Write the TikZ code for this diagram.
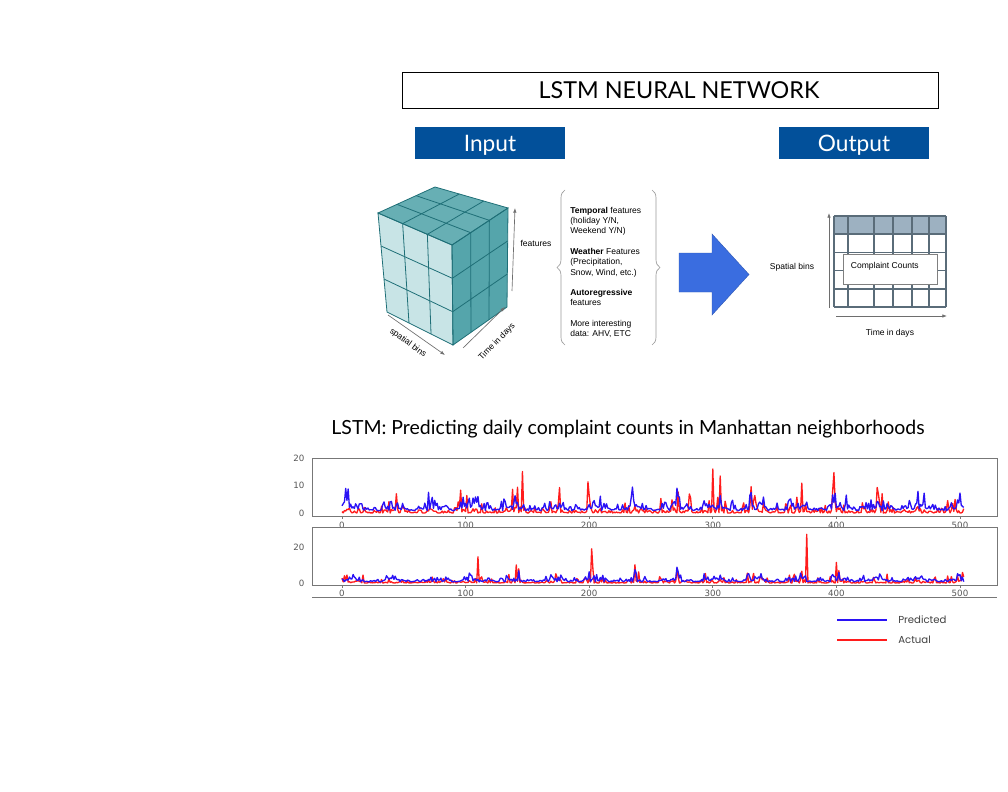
\documentclass[tikz,border=0pt]{standalone}
\usepackage{fontspec}
\setmainfont{Liberation Sans}
\newfontfamily\gillFont{Lato}
\newfontfamily\montFont{Poppins}
\newfontfamily\mplFont{DejaVu Sans}
\usetikzlibrary{arrows.meta, calc, positioning, decorations.pathreplacing}

\definecolor{boxBlue}{HTML}{02509A}
\definecolor{arrowBlue}{HTML}{3A6DE0}
\definecolor{cubeLight}{HTML}{C8E4E6}
\definecolor{cubeTop}{HTML}{67AFB4}
\definecolor{cubeSide}{HTML}{55A5AB}
\definecolor{cubeLine}{HTML}{1F6F77}
\definecolor{axisGray}{HTML}{6E6E6E}
\definecolor{braceGray}{HTML}{9A9A9A}
\definecolor{gridHead}{HTML}{9DB1C1}
\definecolor{gridLine}{HTML}{5A6C79}
\definecolor{frameGray}{HTML}{777777}
\definecolor{tickGray}{HTML}{555555}
\definecolor{predBlue}{HTML}{2A12F5}
\definecolor{actRed}{HTML}{FF1C1C}

\tikzset{
    lstmBox/.style={draw, line width=0.7pt, minimum width=402pt, minimum height=27pt, inner sep=0pt},
    headBox/.style={fill=boxBlue, text=white, minimum width=112.5pt, minimum height=24pt, inner sep=0pt, text height=14pt, text depth=1.8pt, font=\gillFont\fontsize{17}{19}\selectfont},
    cubeEdge/.style={draw=cubeLine, line width=0.6pt},
    axisArrow/.style={-{Latex[length=3.5pt, width=2.6pt]}, draw=axisGray, line width=0.5pt},
    smallText/.style={font=\fontsize{6.4}{7.7}\selectfont, inner sep=1pt},
    featBrace/.style={decorate, decoration={brace, amplitude=6pt}, draw=braceGray, line width=0.5pt},
    gridRule/.style={draw=gridLine, line width=1.3pt},
    axesFrame/.style={draw=frameGray, line width=0.6pt},
    tickLabel/.style={font=\mplFont\fontsize{6.5}{7.5}\selectfont, text=tickGray, inner sep=1pt},
    predLine/.style={draw=predBlue, line width=1pt, line join=round},
    actLine/.style={draw=actRed, line width=1pt, line join=round},
}
\newcommand{\faceGrid}[4]{
    \foreach \t in {0.333, 0.667} {
        \draw[cubeEdge] ($(#1)!\t!(#2)$) -- ($(#4)!\t!(#3)$);
        \draw[cubeEdge] ($(#1)!\t!(#4)$) -- ($(#2)!\t!(#3)$);
    }
    \draw[cubeEdge] (#1) -- (#2) -- (#3) -- (#4) -- cycle;
}
\newcommand{\drawSeries}[3]{
    \pgfmathsetseed{#2}
    \draw[#1] plot[domain=0:503, samples=504] (\x, {#3});
}
% slow swell shared by both series
\newcommand{\swell}{max(0.2, 0.65 + 0.45*sin(\x*11) + 0.3*sin(\x*31))}

\begin{document}
\begin{tikzpicture}[x=0.75pt, y=-0.75pt]
    \useasboundingbox (0,0) rectangle (1008,792);

    % 1. Title and headers
    \node[lstmBox] (lstmFrame) at (670,90) {};
    \node[font=\gillFont\fontsize{17.5}{20}\selectfont, inner sep=0pt] (lstmTitle) at (679,90) {LSTM NEURAL NETWORK};
    \node[headBox] (inputHead) at (490,143) {Input};
    \node[headBox] (outputHead) at (854,143) {Output};

    % 2. Input cube
    \coordinate (tl) at (378,213); \coordinate (tb) at (435,187); \coordinate (tr) at (508,208); \coordinate (tf) at (452,245);
    \coordinate (bf) at (453,345); \coordinate (br) at (507,307); \coordinate (bl) at (387,312);
    \fill[cubeLight] (tl) -- (tf) -- (bf) -- (bl) -- cycle;
    \fill[cubeSide] (tf) -- (tr) -- (br) -- (bf) -- cycle;
    \fill[cubeTop] (tl) -- (tb) -- (tr) -- (tf) -- cycle;
    \faceGrid{tl}{tf}{bf}{bl}
    \faceGrid{tf}{tr}{br}{bf}
    \faceGrid{tl}{tb}{tr}{tf}

    % cube axes
    \coordinate (featLow) at (512,291); \coordinate (featHigh) at (515,208);
    \coordinate (dayLow) at (463,348); \coordinate (dayHigh) at (505,307);
    \coordinate (binLow) at (388,315); \coordinate (binHigh) at (445,355);
    \draw[axisArrow] (featLow) -- (featHigh);
    \draw[axisArrow] (dayLow) -- (dayHigh);
    \draw[axisArrow] (binLow) -- (binHigh);
    \node[smallText] (featLabel) at (536,243) {features};
    \node[smallText, rotate=46] (dayLabel) at (497,342) {Time in days};
    \node[smallText, rotate=-36] (binLabel) at (408,343) {spatial bins};

    % 3. Feature list
    \coordinate (braceLa) at (565,345); \coordinate (braceLb) at (565,190);
    \coordinate (braceRa) at (652,190); \coordinate (braceRb) at (652,345);
    \draw[featBrace] (braceLa) -- (braceLb);
    \draw[featBrace] (braceRa) -- (braceRb);
    \node[smallText, anchor=north west, align=left, inner sep=0pt] (featList) at (570,207) {%
        \textbf{Temporal} features\\(holiday Y/N,\\Weekend Y/N)\\[7.7pt]%
        \textbf{Weather} Features\\(Precipitation,\\Snow, Wind, etc.)\\[7.7pt]%
        \textbf{Autoregressive}\\features\\[7.7pt]%
        More interesting\\data: AHV, ETC};

    % 4. Block arrow
    \fill[arrowBlue, draw=arrowBlue!80!black, line width=0.3pt] (679,253) -- (712,253) -- (712,234) -- (749,274.5) -- (712,315) -- (712,292) -- (679,292) -- cycle;

    % 5. Output grid
    \fill[gridHead] (834,216) rectangle (946,234.2);
    \foreach \gx in {834, 848, 874, 893, 912, 929, 946}
        \draw[gridRule] (\gx,216) -- (\gx,307);
    \foreach \gy in {216, 234.2, 252.4, 270.6, 288.8, 307}
        \draw[gridRule] (834,\gy) -- (946,\gy);
    \node[draw=gray, fill=white, line width=0.6pt, minimum width=70.5pt, minimum height=23pt, inner sep=0pt] (counts) at (890,269.5) {};
    \node[smallText, right=5pt of counts.west, yshift=2.5pt] (countsText) {Complaint Counts};
    \coordinate (spLow) at (829,308); \coordinate (spHigh) at (829,213);
    \coordinate (tdLow) at (836,316); \coordinate (tdHigh) at (947,316);
    \draw[axisArrow] (spLow) -- (spHigh);
    \draw[axisArrow] (tdLow) -- (tdHigh);
    \node[smallText] (spLabel) at (792,267) {Spatial bins};
    \node[smallText] (tdLabel) at (890,333) {Time in days};

    % 6. Plot title
    \node[font=\gillFont\fontsize{14.6}{17}\selectfont, inner sep=0pt] (plotTitle) at (628,429) {LSTM: Predicting daily complaint counts in Manhattan neighborhoods};

    % 7. Top plot
    \draw[axesFrame] (312,458) rectangle (997,516);
    \begin{scope}[shift={(342,513)}, x=0.927pt, y=2.0625pt]
        \drawSeries{actLine}{11}{\swell*(2*rnd^2 + 10*rnd^8) + 15*max(0,1-abs(\x-146)) + 16*max(0,1-abs(\x-300))}
        \drawSeries{predLine}{23}{0.8 + \swell*(2.5*rnd + 6*rnd^5)}
    \end{scope}
    \node[tickLabel, anchor=east] (topY20) at (306,458) {20};
    \node[tickLabel, anchor=east] (topY10) at (306,485) {10};
    \node[tickLabel, anchor=east] (topY0) at (306,513) {0};
    \foreach \v in {0,100,...,500} {
        \draw[axesFrame] ({342+1.236*\v},516) -- ({342+1.236*\v},519);
        \node[tickLabel] (topX\v) at ({342+1.236*\v},525) {\v};
    }

    % 8. Bottom plot
    \draw[axesFrame] (312,527) rectangle (997,585);
    \begin{scope}[shift={(342,583)}, x=0.927pt, y=1.35pt]
        \drawSeries{actLine}{37}{\swell*(1.5*rnd^2 + 8*rnd^9) + 26*max(0,1-abs(\x-376)) + 19*max(0,1-abs(\x-202)) + 14*max(0,1-abs(\x-110)) + 11*max(0,1-abs(\x-400))}
        \drawSeries{predLine}{41}{0.6 + \swell*(2*rnd + 5*rnd^6)}
    \end{scope}
    \node[tickLabel, anchor=east] (botY20) at (306,547) {20};
    \node[tickLabel, anchor=east] (botY0) at (306,583) {0};
    \foreach \v in {0,100,...,500} {
        \draw[axesFrame] ({342+1.236*\v},585) -- ({342+1.236*\v},588);
        \node[tickLabel] (botX\v) at ({342+1.236*\v},593) {\v};
    }
    \coordinate (cutL) at (312,597); \coordinate (cutR) at (997,597);
    \draw[axesFrame] (cutL) -- (cutR);

    % 9. Legend
    \coordinate (predA) at (837,620); \coordinate (predB) at (887,620);
    \coordinate (actA) at (837,640); \coordinate (actB) at (887,640);
    \draw[predLine, line width=1.4pt] (predA) -- (predB);
    \draw[actLine, line width=1.4pt] (actA) -- (actB);
    \node[font=\montFont\fontsize{7.6}{9}\selectfont, text=black!75, anchor=west, inner sep=0pt] (predText) at (898,620) {Predicted};
    \node[font=\montFont\fontsize{7.6}{9}\selectfont, text=black!75, anchor=west, inner sep=0pt] (actText) at (898,640) {Actual};
\end{tikzpicture}
\end{document}
